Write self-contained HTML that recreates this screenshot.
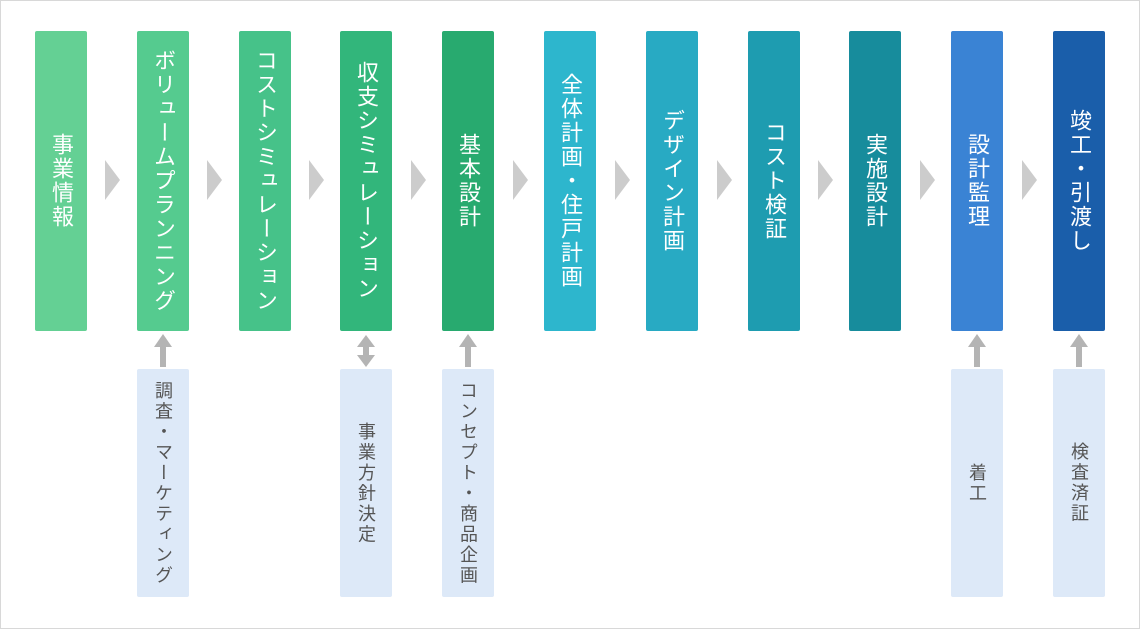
<!DOCTYPE html>
<html><head><meta charset="utf-8"><style>
body{margin:0;width:1140px;height:629px;background:#fff;position:relative;overflow:hidden;font-family:"Liberation Sans","Noto Sans CJK JP",sans-serif}
.frame{position:absolute;left:0;top:0;width:1138px;height:627px;border:1px solid #d8d8d8}
.t{position:absolute;top:31px;width:52px;height:300px;border-radius:2px;color:#fff;font-size:22px;writing-mode:vertical-rl;display:flex;align-items:center;justify-content:center;letter-spacing:2px;line-height:52px}
.b{position:absolute;top:369px;width:52px;height:228px;background:#dde9f8;color:#555;font-size:18px;writing-mode:vertical-rl;display:flex;align-items:center;justify-content:center;line-height:52px;border-radius:2px;letter-spacing:2.5px}
.ar{position:absolute;top:160px;width:0;height:0;border-top:20px solid transparent;border-bottom:20px solid transparent;border-left:15px solid #ccc}
svg{position:absolute;left:0;top:0}
</style></head><body>
<div class="frame"></div>
<div class="t" style="left:35px;background:#64d094">事業情報</div>
<div class="t" style="left:137px;background:#55cb8f">ボリュームプランニング</div>
<div class="t" style="left:239px;background:#46c289">コストシミュレーション</div>
<div class="t" style="left:340px;background:#32b67b">収支シミュレーション</div>
<div class="t" style="left:442px;background:#28aa6f">基本設計</div>
<div class="t" style="left:544px;background:#2db6cd">全体計画・住戸計画</div>
<div class="t" style="left:646px;background:#28aac3">デザイン計画</div>
<div class="t" style="left:748px;background:#1e9cb0">コスト検証</div>
<div class="t" style="left:849px;background:#178c9c">実施設計</div>
<div class="t" style="left:951px;background:#3a83d4">設計監理</div>
<div class="t" style="left:1053px;background:#1a5eaa">竣工・引渡し</div>
<div class="ar" style="left:105px"></div>
<div class="ar" style="left:207px"></div>
<div class="ar" style="left:309px"></div>
<div class="ar" style="left:411px"></div>
<div class="ar" style="left:513px"></div>
<div class="ar" style="left:615px"></div>
<div class="ar" style="left:717px"></div>
<div class="ar" style="left:818px"></div>
<div class="ar" style="left:920px"></div>
<div class="ar" style="left:1022px"></div>
<div class="b" style="left:137px">調査・マーケティング</div>
<div class="b" style="left:340px">事業方針決定</div>
<div class="b" style="left:442px">コンセプト・商品企画</div>
<div class="b" style="left:951px">着工</div>
<div class="b" style="left:1053px">検査済証</div>
<svg width="1140" height="629" fill="#b4b4b4">
<g><polygon points="163,334 154,347 172,347"/><rect x="160" y="346" width="6" height="21"/></g>
<g><polygon points="366,335 357,347 375,347"/><rect x="363" y="346" width="6" height="10"/><polygon points="366,367 357,355 375,355"/></g>
<g><polygon points="468,334 459,347 477,347"/><rect x="465" y="346" width="6" height="21"/></g>
<g><polygon points="977,334 968,347 986,347"/><rect x="974" y="346" width="6" height="21"/></g>
<g><polygon points="1079,334 1070,347 1088,347"/><rect x="1076" y="346" width="6" height="21"/></g>
</svg>
</body></html>
